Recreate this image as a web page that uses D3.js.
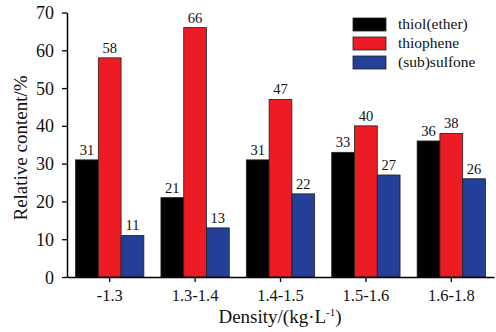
<!DOCTYPE html>
<html>
<head>
<meta charset="utf-8">
<script src="https://cdn.jsdelivr.net/npm/d3@7"></script>
<style>
  body { margin: 0; background: #fff; }
  svg { display: block; }
  svg text { font-family: "Liberation Serif", "Times New Roman", serif; fill: #111; }
</style>
</head>
<body>
<svg id="chart" width="496" height="332"></svg>
<script>
const categories = ["-1.3", "1.3-1.4", "1.4-1.5", "1.5-1.6", "1.6-1.8"];
const seriesNames = ["thiol(ether)", "thiophene", "(sub)sulfone"];
const thiol = [31, 21, 31, 33, 36];
const thiophene = [58, 66, 47, 40, 38];
const sulfone = [11, 13, 22, 27, 26];
const yTicks = [0, 10, 20, 30, 40, 50, 60, 70];
const colors = ["#000000", "#ed1c24", "#233f98"];

const seriesValues = [thiol, thiophene, sulfone];
const svg = d3.select("#chart");

const LEFT = 67, RIGHT = 494, TOP = 12.5, BOTTOM = 277;

const x0 = d3.scaleBand().domain(categories).range([LEFT, RIGHT]).paddingInner(0.2).paddingOuter(0.1);
const x1 = d3.scaleBand().domain(seriesNames).range([0, x0.bandwidth()]);
const y = d3.scaleLinear().domain([0, 70]).range([BOTTOM, TOP]);

// bars
const groups = svg.append("g")
  .selectAll("g")
  .data(categories)
  .join("g")
  .attr("transform", d => `translate(${x0(d)},0)`);

const cells = (c, i) => seriesNames.map((s, j) => ({ s, j, v: seriesValues[j][i] }));

groups.selectAll("rect")
  .data(cells)
  .join("rect")
  .attr("x", d => x1(d.s))
  .attr("y", d => y(d.v))
  .attr("width", x1.bandwidth())
  .attr("height", d => BOTTOM - y(d.v))
  .attr("fill", d => colors[d.j])
  .attr("stroke", "#222")
  .attr("stroke-width", 0.8);

groups.selectAll("text")
  .data(cells)
  .join("text")
  .attr("x", d => x1(d.s) + x1.bandwidth() / 2)
  .attr("y", d => y(d.v) - 5)
  .attr("text-anchor", "middle")
  .style("font-size", "14.5px")
  .text(d => d.v);

// axes
const xAxis = d3.axisBottom(x0).tickSize(5).tickSizeOuter(0);
const yAxis = d3.axisLeft(y).tickValues(yTicks).tickSize(5).tickSizeOuter(0);

const gx = svg.append("g")
  .attr("transform", `translate(0,${BOTTOM})`)
  .call(xAxis);
gx.select(".domain").attr("stroke-width", 1.5);
gx.selectAll(".tick line").attr("stroke-width", 1.3);
gx.selectAll(".tick text")
  .attr("y", 24)
  .attr("dy", 0)
  .style("font-size", "16.5px");

const gy = svg.append("g")
  .attr("transform", `translate(${LEFT},0)`)
  .call(yAxis);
gy.select(".domain").attr("stroke-width", 1.5);
gy.selectAll(".tick line").attr("stroke-width", 1.3);
gy.selectAll(".tick text")
  .attr("x", -13)
  .attr("dy", "0.34em")
  .style("font-size", "18px");

// axis titles
const xt = svg.append("text")
  .attr("x", 280)
  .attr("y", 323)
  .attr("text-anchor", "middle")
  .style("font-size", "19px");
xt.append("tspan").text("Density/(kg·L");
xt.append("tspan").attr("dy", -7).style("font-size", "11px").text("-1");
xt.append("tspan").attr("dy", 7).text(")");

svg.append("text")
  .attr("transform", "translate(27,148) rotate(-90)")
  .attr("text-anchor", "middle")
  .style("font-size", "19px")
  .text("Relative content/%");

// legend
const legend = svg.append("g")
  .selectAll("g")
  .data(seriesNames)
  .join("g")
  .attr("transform", (d, i) => `translate(353,${18 + i * 19})`);

legend.append("rect")
  .attr("width", 33)
  .attr("height", 13)
  .attr("fill", (d, i) => colors[i])
  .attr("stroke", "#222")
  .attr("stroke-width", 0.8);

legend.append("text")
  .attr("x", 45)
  .attr("y", 11)
  .style("font-size", "15.5px")
  .text(d => d);
</script>
</body>
</html>
